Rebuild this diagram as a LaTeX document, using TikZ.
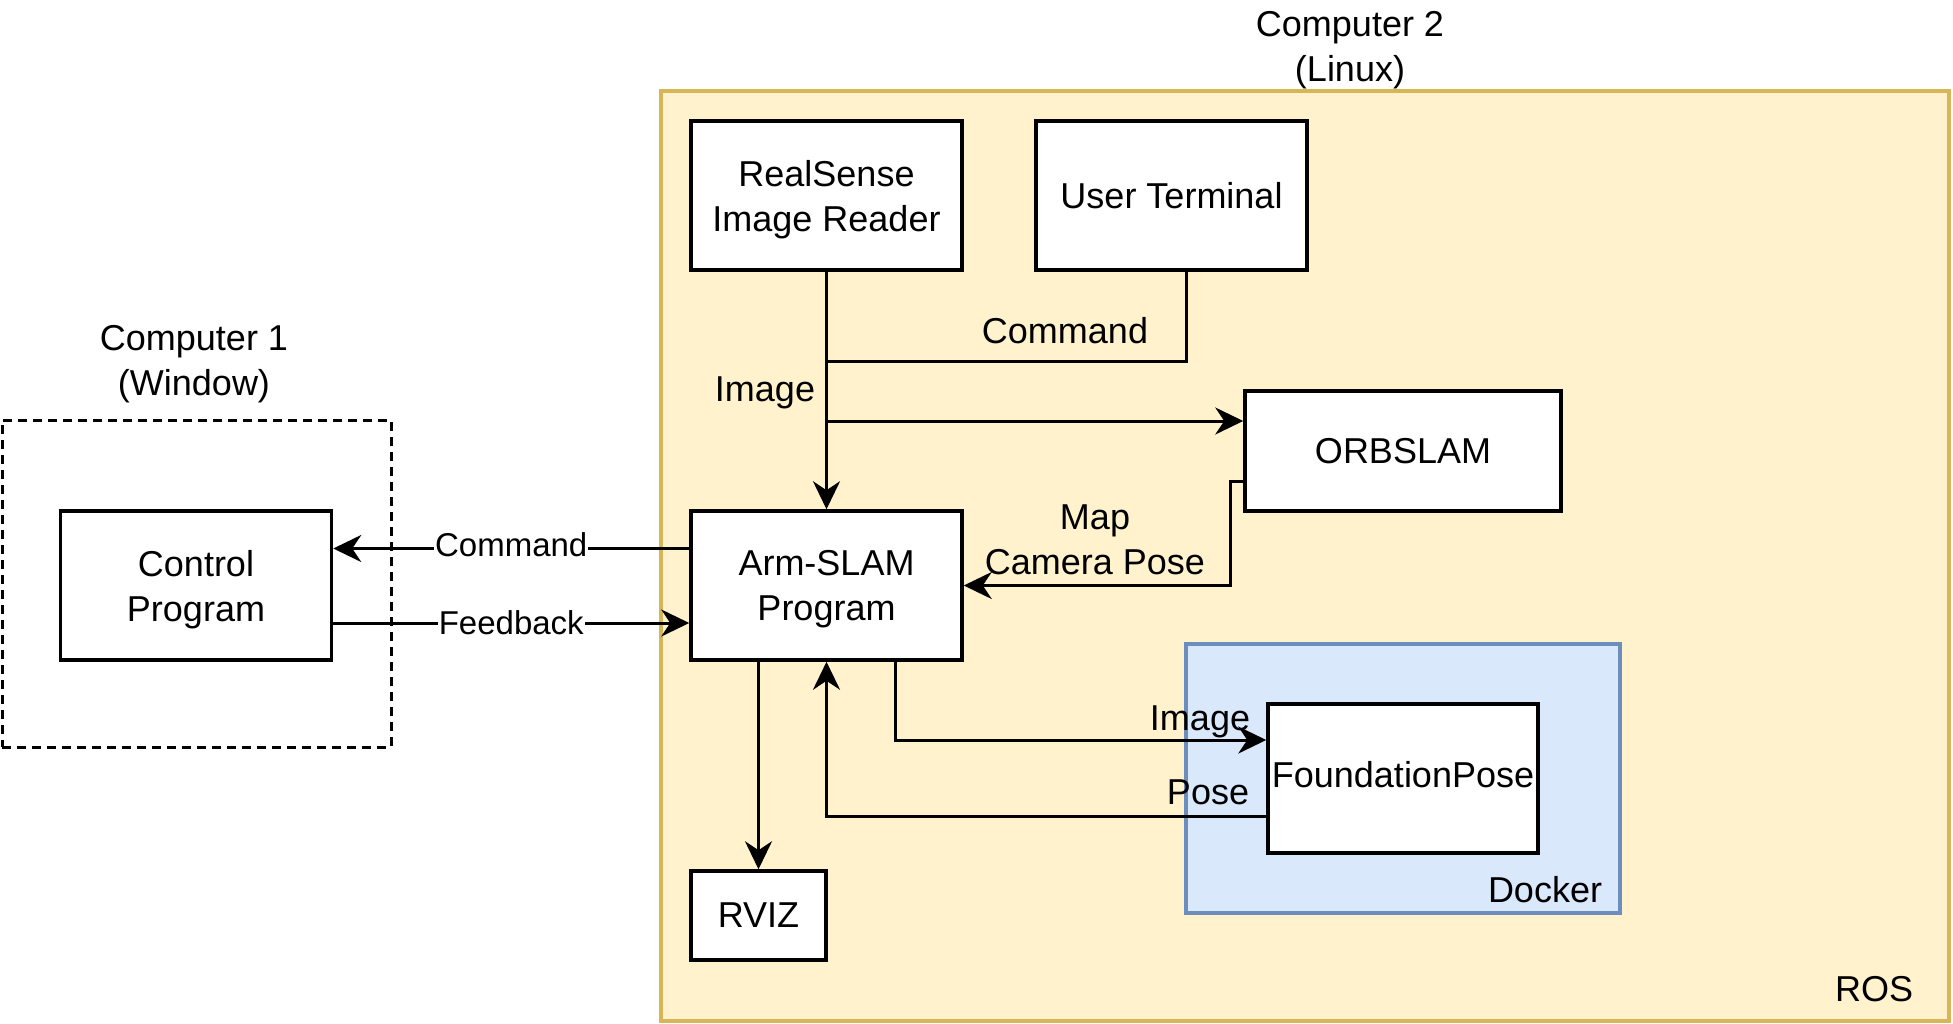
\documentclass[tikz,border=0pt]{standalone}
\usepackage{fontspec}
\setmainfont{Liberation Sans}
\usepackage{xcolor}
\usetikzlibrary{arrows.meta, calc}

\definecolor{rosfill}{HTML}{FFF2CC}
\definecolor{rosline}{HTML}{D6B656}
\definecolor{dockfill}{HTML}{DAE8FC}
\definecolor{dockline}{HTML}{6C8EBF}

\begin{document}
\begin{tikzpicture}[x=1pt,y=-1pt,>={Stealth[length=28pt,width=27pt,inset=9pt]}]

% Stili per blocchi, testi e frecce
\tikzset{
  blocco/.style={draw, fill=white, line width=3.5pt, minimum width=271pt, minimum height=149pt,
    inner sep=0pt, align=center, text depth=0pt, font=\fontsize{36}{45}\selectfont},
  testo/.style={align=center, inner sep=0pt, text depth=0pt, font=\fontsize{36}{45}\selectfont},
  freccia/.style={line width=3pt},
  etichetta/.style={fill=white, inner sep=1pt, font=\fontsize{33}{41}\selectfont}
}

\useasboundingbox (0,0) rectangle (1953,1023);

% --- Contenitori ---
\node[draw=rosline, fill=rosfill, line width=4pt, minimum width=1288pt, minimum height=930pt] (ros) at (1305,556) {};
\node[draw=dockline, fill=dockfill, line width=3.5pt, minimum width=434pt, minimum height=269pt] (docker) at (1403,778.5) {};
\node[draw, dash pattern=on 9pt off 6pt, line width=3pt, minimum width=389pt, minimum height=327pt] (pc1) at (196.5,583.5) {};

% Nomi dei contenitori
\node[testo] (pc1name) at (194,360) {Computer 1\\(Window)};
\node[testo] (pc2name) at (1350,46) {Computer 2\\(Linux)};
\node[testo] (rosname) at (1874,989) {ROS};
\node[testo] (dockname) at (1545,889) {Docker};

% --- Blocchi ---
\node[blocco] (reader) at (826.5,195.5) {RealSense\\Image Reader};
\node[blocco] (terminal) at (1171.5,195.5) {User Terminal};
\node[blocco, minimum width=316pt, minimum height=120pt] (orbslam) at (1403,451) {ORBSLAM};
\node[blocco] (arm) at (826.5,585.5) {Arm-SLAM\\Program};
\node[blocco] (control) at (196,585.5) {Control\\Program};
\node[blocco, minimum width=270pt, text depth=9pt] (fpose) at (1403,778.5) {FoundationPose};
\node[blocco, minimum width=135pt, minimum height=89pt] (rviz) at (758.5,915.5) {RVIZ};

% --- Frecce ---
% Immagine e comando verso Arm-SLAM
\coordinate (join) at (826.5,361);
\coordinate (orbin) at ($(orbslam.west)+(0,-30)$);
\coordinate (orbout) at ($(orbslam.west)+(0,30)$);
\draw[freccia] ($(terminal.south)+(14.5,0)$) |- (join);
\draw[freccia,->] (reader) -- (arm);
\draw[freccia,->] (reader.south |- orbin) -- (orbin);
\draw[freccia,->] (orbout) -- ++(-13,0) |- (arm.east);

% Collegamento con Computer 1
\draw[freccia,->] ($(arm.west)+(0,-37)$) -- ($(control.east)+(0,-37)$) node[etichetta, midway, yshift=4pt] {Command};
\draw[freccia,->] ($(control.east)+(0,37.5)$) -- ($(arm.west)+(0,37.5)$) node[etichetta, midway] {Feedback};

% RVIZ e FoundationPose
\draw[freccia,->] (arm.south -| rviz.north) -- (rviz.north);
\draw[freccia,->] ($(arm.south)!0.5!(arm.south east)$) |- ($(fpose.west)+(0,-38.5)$);
\draw[freccia,->] ($(fpose.west)+(0,37.5)$) -| (arm.south);

% Etichette delle frecce
\node[testo] (lblcmd) at (1065,330) {Command};
\node[testo] (lblimg) at (765,389) {Image};
\node[testo] (lblmap) at (1095,539.5) {Map\\Camera Pose};
\node[testo] (lblimgfp) at (1200,718) {Image};
\node[testo] (lblpose) at (1208,792) {Pose};

\end{tikzpicture}
\end{document}
